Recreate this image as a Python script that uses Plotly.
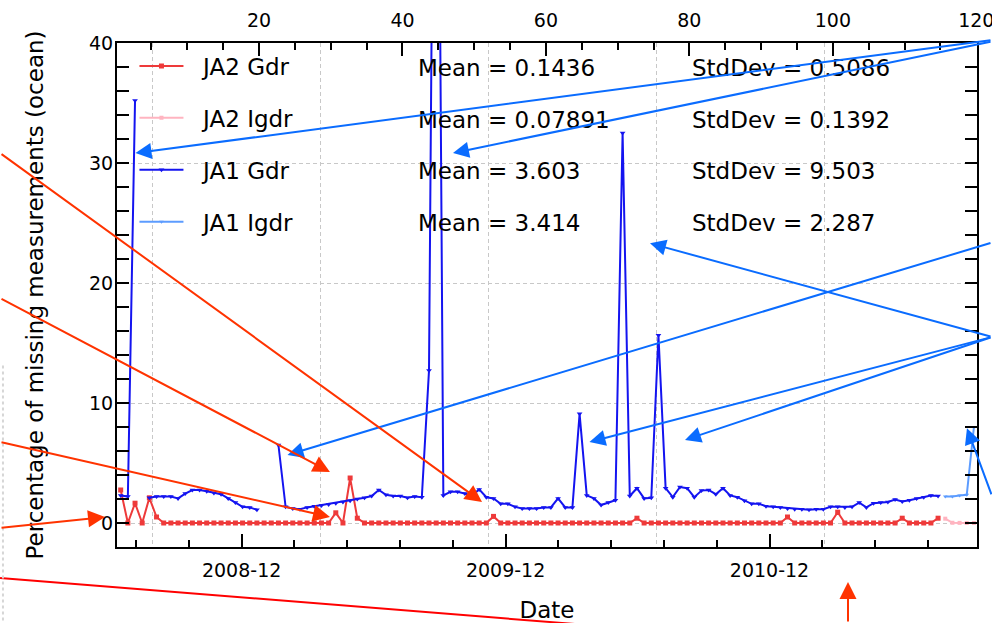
import pandas as pd
import plotly.graph_objects as go

# ---------------------------------------------------------------------------
# Data: percentage of missing ocean measurements per repeat cycle
# ---------------------------------------------------------------------------
REPEAT_DAYS = 9.9156                      # ground-track repeat period (days)
first_pass = pd.Timestamp("2008-06-16 18:00")

cycles = list(range(1, 121))

ja2_gdr_cycles = cycles[:115]
ja2_gdr = [
    2.75, 0.0, 1.65, 0.0, 2.1, 0.5, 0.0, 0.0, 0.0, 0.0,
    0.0, 0.0, 0.0, 0.0, 0.0, 0.0, 0.0, 0.0, 0.0, 0.0,
    0.0, 0.0, 0.0, 0.0, 0.0, 0.0, 0.0, 0.0, 0.0, 0.0,
    0.85, 0.0, 3.75, 0.4, 0.0, 0.0, 0.0, 0.0, 0.0, 0.0,
    0.0, 0.0, 0.0, 0.0, 0.0, 0.0, 0.0, 0.0, 0.0, 0.0,
    0.0, 0.0, 0.55, 0.0, 0.0, 0.0, 0.0, 0.0, 0.0, 0.0,
    0.0, 0.0, 0.0, 0.0, 0.0, 0.0, 0.0, 0.0, 0.0, 0.0,
    0.0, 0.0, 0.4, 0.0, 0.0, 0.0, 0.0, 0.0, 0.0, 0.0,
    0.0, 0.0, 0.0, 0.0, 0.0, 0.0, 0.0, 0.0, 0.0, 0.0,
    0.0, 0.0, 0.0, 0.5, 0.0, 0.0, 0.0, 0.0, 0.0, 0.0,
    0.9, 0.0, 0.0, 0.0, 0.0, 0.0, 0.0, 0.0, 0.0, 0.4,
    0.0, 0.0, 0.0, 0.0, 0.4,
]

ja2_igdr_cycles = cycles[115:]
ja2_igdr = [0.36, 0.02, 0.01, 0.0, 0.0]

ja1_gdr_cycles = cycles[:115]
ja1_gdr = [
    2.3, 2.2, 35.2, None, 2.1, 2.2, 2.2, 2.2, 2.05, 2.45,
    2.75, 2.75, 2.65, 2.5, 2.4, 2.05, 1.7, 1.35, 1.3, 1.1,
    None, None, 6.5, 1.35, 1.2, 1.15, 1.3, 1.4, 1.45, 1.55,
    1.65, 1.75, 1.85, 2.0, 2.1, 2.25, 2.75, 2.35, 2.25, 2.25,
    2.1, 2.2, 2.15, 12.7, 91.0, 2.3, 2.6, 2.6, 2.45, 2.3,
    2.8, 2.15, 2.05, 1.6, 1.6, 1.35, 1.2, 1.2, 1.2, 1.3,
    1.3, 2.05, 1.3, 1.3, 9.1, 2.3, 2.05, 1.5, 1.7, 1.9,
    32.5, 2.25, 2.9, 2.05, 2.1, 15.65, 2.9, 2.15, 3.0, 2.9,
    2.15, 2.7, 2.75, 2.4, 2.9, 2.3, 2.15, 1.85, 1.6, 1.6,
    1.4, 1.35, 1.3, 1.2, 1.15, 1.15, 1.1, 1.15, 1.15, 1.35,
    1.35, 1.3, 1.35, 1.7, 1.3, 1.65, 1.7, 1.75, 1.95, 1.8,
    1.9, 2.05, 2.15, 2.3, 2.25,
]

ja1_igdr_cycles = cycles[115:]
ja1_igdr = [2.2, 2.2, 2.3, 2.35, 8.0]

series_names = ["JA2 Gdr", "JA2 Igdr", "JA1 Gdr", "JA1 Igdr"]
series_means = ["0.1436", "0.07891", "3.603", "3.414"]
series_stds = ["0.5086", "0.1392", "9.503", "2.287"]

major_dates = ["2008-12-01", "2009-12-01", "2010-12-01"]
major_labels = ["2008-12", "2009-12", "2010-12"]
top_ticks = [20, 40, 60, 80, 100, 120]


def cycle_dates(cyc):
    return [first_pass + pd.Timedelta(days=REPEAT_DAYS * (c - 1)) for c in cyc]


# Axis geometry
date_start = first_pass - pd.Timedelta(days=5.1)
date_end = date_start + pd.Timedelta(days=1189.3)
minor_dates = [pd.Timestamp("2008-12-01") + pd.Timedelta(days=73 * k) for k in range(-2, 14)]
cycle_range = [0.2, 120.1]
grid_cycles = [5.14, 28.56, 51.96, 75.37, 98.78]

FONT = "DejaVu Sans"
RED = "#ee3a3a"
PINK = "#ffb4c0"
BLUE = "#1414f0"
LIGHTBLUE = "#5c9cff"
ARROW_RED = "#ff3300"
ARROW_BLUE = "#0a6cff"
GRID = "#c8c8c8"
TICKFONT = dict(family=FONT, size=19, color="black")
PAD = "\u00a0\u00a0"   # gap between legend symbol and label

fig = go.Figure()

traces = [
    ("JA2 Gdr", ja2_gdr_cycles, ja2_gdr, RED, "square", 5),
    ("JA2 Igdr", ja2_igdr_cycles, ja2_igdr, PINK, "square", 4),
    ("JA1 Gdr", ja1_gdr_cycles, ja1_gdr, BLUE, "triangle-down", 5),
    ("JA1 Igdr", ja1_igdr_cycles, ja1_igdr, LIGHTBLUE, "triangle-down", 4),
]
for name, cyc, vals, color, sym, size in traces:
    fig.add_trace(go.Scatter(
        x=cycle_dates(cyc), y=vals, name=PAD + name, legendgroup=name,
        mode="lines+markers",
        line=dict(color=color, width=2),
        marker=dict(symbol=sym, size=size, color=color, line=dict(width=0)),
    ))

# empty traces that register the cycle axis and the grid axis
fig.add_trace(go.Scatter(x=[], y=[], xaxis="x2", yaxis="y", showlegend=False, hoverinfo="skip"))
fig.add_trace(go.Scatter(x=[], y=[], xaxis="x3", yaxis="y", showlegend=False, hoverinfo="skip"))

# statistics next to the legend entries
row_y = [0.9504 - 0.1023 * k for k in range(4)]
for k in range(4):
    fig.add_annotation(text=f"Mean = {series_means[k]}", xref="paper", yref="paper",
                       x=0.3473, y=row_y[k], xanchor="left", yanchor="middle",
                       showarrow=False, font=dict(size=23, family=FONT, color="black"))
    fig.add_annotation(text=f"StdDev = {series_stds[k]}", xref="paper", yref="paper",
                       x=0.6663, y=row_y[k], xanchor="left", yanchor="middle",
                       showarrow=False, font=dict(size=23, family=FONT, color="black"))

# pointer arrows: tip in (cycle, %) and tail offset in pixels (tails on the page edge)
blue_arrows = [
    (2.78, 30.83, 856.5, -113.1),
    (47.04, 30.83, 539, -111.6),
    (74.51, 23.31, 342, 93.7),
    (66.07, 6.75, 402.5, -105),
    (79.39, 6.92, 307, -103),
    (23.97, 5.67, 704.5, -212.4),
    (118.70, 7.89, 25, 67.5),
]
for cx, cy, ax, ay in blue_arrows:
    fig.add_annotation(x=cx, y=cy, xref="x2", yref="y", ax=ax, ay=ay, text="",
                       showarrow=True, arrowhead=2, arrowsize=1.6, arrowwidth=2,
                       arrowcolor=ARROW_BLUE, standoff=0)

red_arrows = [
    (51.09, 1.75, -482, -349),
    (29.89, 4.25, -330, -174),
    (29.89, 0.5, -330, -75),
]
for cx, cy, ax, ay in red_arrows:
    fig.add_annotation(x=cx, y=cy, xref="x2", yref="y", ax=ax, ay=ay, text="",
                       showarrow=True, arrowhead=2, arrowsize=1.7, arrowwidth=2,
                       arrowcolor=ARROW_RED, standoff=0)

# arrows whose tips sit outside the plotting area
outer_arrows = [
    (-0.01395, 0.0595, -105, 11, ARROW_RED),
    (0.85, -0.0694, 0, 41, ARROW_RED),
]
for px, py, ax, ay, col in outer_arrows:
    fig.add_annotation(x=px, y=py, xref="paper", yref="paper", ax=ax, ay=ay, text="",
                       showarrow=True, arrowhead=2, arrowsize=1.7, arrowwidth=2,
                       arrowcolor=col, standoff=0)

# long red pointer running out below the page
fig.add_shape(type="line", xref="paper", yref="paper", x0=-0.136, x1=0.794,
              y0=-0.0615, y1=-0.1885, line=dict(color="#ff0000", width=2))

# faint dotted border at the far left
fig.add_shape(type="line", xref="paper", yref="paper", x0=-0.1326, x1=-0.1326,
              y0=0.36, y1=-0.2, line=dict(color="#d6d6d6", width=2, dash="dot"))

fig.update_layout(
    width=992, height=623,
    margin=dict(l=117, r=15, t=43, b=76, autoexpand=False),
    paper_bgcolor="white", plot_bgcolor="white",
    font=dict(family=FONT, size=19, color="black"),
    showlegend=True,
    legend=dict(x=0.0203, y=0.997, xanchor="left", yanchor="top",
                bgcolor="rgba(0,0,0,0)", borderwidth=0,
                font=dict(size=23, family=FONT, color="black"),
                tracegroupgap=19, itemwidth=44),
    xaxis=dict(
        type="date", range=[date_start, date_end], automargin=False,
        tickmode="array", tickvals=major_dates, ticktext=major_labels,
        tickfont=TICKFONT,
        ticks="inside", ticklen=13, tickwidth=2, tickcolor="black",
        minor=dict(tickmode="array", tickvals=minor_dates, ticks="inside",
                   ticklen=7, tickwidth=2, tickcolor="black", showgrid=False),
        showgrid=False, zeroline=False,
        showline=True, linecolor="black", linewidth=2,
        ticklabelstandoff=5,
        title=dict(text="Date", font=dict(size=23), standoff=24),
    ),
    xaxis2=dict(
        overlaying="x", side="top", anchor="y", range=cycle_range, automargin=False,
        tickmode="array", tickvals=top_ticks, tickfont=TICKFONT,
        ticklabeloverflow="allow",
        ticks="inside", ticklen=13, tickwidth=2, tickcolor="black",
        minor=dict(tick0=0, dtick=5, ticks="inside", ticklen=7, tickwidth=2,
                   tickcolor="black", showgrid=False),
        showgrid=False, zeroline=False,
        showline=True, linecolor="black", linewidth=2,
        ticklabelstandoff=6,
    ),
    xaxis3=dict(
        overlaying="x", anchor="y", range=cycle_range, automargin=False,
        tickmode="array", tickvals=grid_cycles, showticklabels=False, ticks="",
        showgrid=True, gridcolor=GRID, griddash="4px,3px", gridwidth=1,
        showline=False, zeroline=False,
    ),
    yaxis=dict(
        range=[-2, 40], tickmode="linear", tick0=0, dtick=10, automargin=False,
        tickfont=TICKFONT,
        ticks="inside", ticklen=12, tickwidth=2, tickcolor="black",
        minor=dict(tick0=0, dtick=2, ticks="inside", ticklen=7, tickwidth=2,
                   tickcolor="black", showgrid=False),
        showgrid=True, gridcolor=GRID, griddash="4px,3px", gridwidth=1,
        zeroline=False, showline=True, linecolor="black", linewidth=2,
        mirror="allticks", ticklabelstandoff=-2,
        title=dict(text="Percentage of missing measurements (ocean)",
                   font=dict(size=23), standoff=39),
    ),
)

fig.write_html("out.html")
